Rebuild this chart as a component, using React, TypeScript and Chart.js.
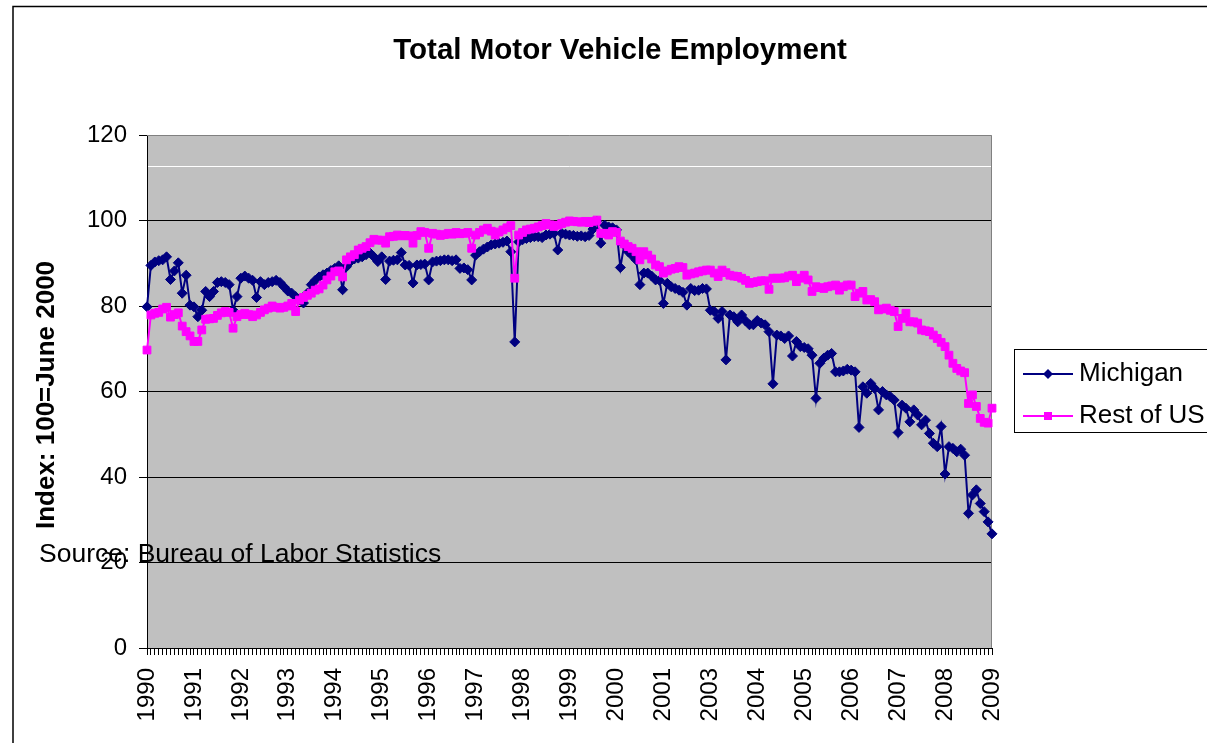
import React, { useEffect, useRef } from "react";
import { Chart, registerables } from "chart.js";

Chart.register(...registerables);

const yearLabels = [
  "1990", "1991", "1992", "1993", "1994", "1995", "1996", "1997", "1998", "1999",
  "2000", "2001", "2003", "2004", "2005", "2006", "2007", "2008", "2009",
];

const michigan = [
  79.8, 89.5, 90.3, 90.6, 90.8, 91.5, 86.2, 88.2, 90.1, 83.0, 87.2, 80.2,
  79.8, 77.5, 79.0, 83.4, 82.2, 83.4, 85.5, 85.7, 85.5, 85.0, 79.0, 82.2,
  86.5, 87.0, 86.5, 86.0, 82.0, 85.7, 85.0, 85.5, 85.7, 86.0, 85.5, 84.5,
  83.5, 83.0, 82.2, 81.5, 80.7, 83.0, 85.0, 86.0, 86.8, 87.3, 87.7, 88.3,
  88.8, 89.4, 83.8, 89.2, 90.4, 91.0, 91.2, 91.5, 92.0, 92.4, 91.5, 90.4,
  91.5, 86.2, 90.5, 90.7, 90.8, 92.5, 89.6, 89.5, 85.4, 89.6, 89.7, 89.8,
  86.1, 90.3, 90.5, 90.6, 90.8, 90.8, 90.6, 90.8, 88.8, 88.9, 88.5, 86.1,
  91.9, 92.7, 93.3, 93.8, 94.3, 94.5, 94.7, 94.9, 95.2, 92.7, 71.6, 95.0,
  95.5, 95.8, 96.0, 96.2, 96.2, 96.0, 96.6, 96.8, 97.0, 93.1, 97.0, 96.8,
  96.6, 96.5, 96.3, 96.4, 96.2, 96.5, 98.0, 99.8, 94.7, 98.9, 98.5, 98.3,
  97.8, 89.0, 94.3, 92.7, 91.8, 90.8, 85.0, 87.7, 87.7, 87.0, 86.1, 86.0,
  80.6, 85.3, 84.5, 84.1, 83.7, 83.2, 80.2, 84.1, 83.6, 83.7, 84.1, 84.0,
  79.0, 78.7, 77.1, 78.7, 67.4, 77.9, 77.5, 76.3, 77.9, 76.5, 75.6, 75.6,
  76.6, 76.0, 75.6, 74.0, 61.8, 73.2, 73.0, 72.4, 73.0, 68.3, 71.7, 70.5,
  70.3, 70.0, 68.5, 58.4, 66.6, 67.8, 68.5, 68.9, 64.6, 64.6, 64.8, 65.2,
  65.0, 64.6, 51.6, 61.1, 59.6, 61.9, 60.7, 55.7, 60.0, 59.2, 58.8, 58.0,
  50.4, 56.8, 56.1, 52.9, 55.7, 54.5, 52.2, 53.3, 50.2, 47.9, 47.1, 51.8,
  40.7, 47.1, 46.7, 45.9, 46.5, 45.1, 31.5, 35.8, 37.0, 33.8, 31.9, 29.5,
  26.7,
];

const restOfUS = [
  69.7, 77.9, 78.3, 78.5, 79.3, 79.7, 77.4, 78.0, 78.4, 75.3, 74.0, 73.0,
  71.7, 71.7, 74.4, 76.9, 77.0, 77.1, 77.8, 78.4, 78.7, 78.5, 74.8, 77.5,
  78.0, 78.3, 78.0, 77.5, 77.9, 78.5, 79.1, 79.5, 80.0, 79.7, 79.5, 79.7,
  80.0, 80.6, 78.7, 81.4, 82.0, 82.5, 83.0, 83.7, 84.0, 84.9, 86.1, 87.0,
  88.0, 88.2, 86.8, 90.8, 91.5, 92.0, 93.1, 93.5, 93.9, 94.8, 95.6, 95.4,
  95.4, 94.7, 96.2, 96.3, 96.6, 96.4, 96.5, 96.4, 94.7, 96.5, 97.4, 97.2,
  93.5, 97.0, 96.8, 96.5, 96.7, 97.0, 96.8, 97.2, 96.9, 97.0, 97.2, 93.5,
  96.6, 97.2, 97.8, 98.2, 97.5, 96.6, 97.3, 97.8, 98.3, 98.8, 86.5, 96.6,
  97.2, 97.8, 98.0, 98.2, 98.5, 98.8, 99.3, 99.0, 98.6, 98.9, 99.3, 99.6,
  99.9, 99.8, 99.7, 99.6, 99.8, 99.5, 99.8, 100.1, 97.0, 97.0, 96.6, 97.4,
  97.2, 95.2, 94.5, 93.9, 93.5, 92.7, 90.8, 92.7, 91.9, 91.0, 89.6, 89.2,
  87.7, 88.2, 88.6, 88.8, 89.2, 89.0, 87.2, 87.5, 87.7, 88.0, 88.2, 88.4,
  88.4, 87.7, 86.9, 88.4, 87.8, 87.2, 87.0, 86.9, 86.5, 86.0, 85.3, 85.5,
  85.7, 85.9, 85.9, 83.9, 86.5, 86.5, 86.5, 86.6, 87.0, 87.2, 85.7, 86.5,
  87.2, 86.1, 83.4, 84.5, 84.3, 84.1, 84.5, 84.7, 84.9, 83.7, 84.5, 84.9,
  84.9, 82.2, 83.0, 83.4, 81.4, 81.5, 81.0, 79.1, 79.3, 79.5, 79.0, 78.7,
  75.2, 77.1, 78.3, 76.3, 76.3, 76.0, 74.4, 74.2, 74.0, 73.2, 72.4, 71.5,
  70.5, 68.5, 66.6, 65.4, 64.8, 64.4, 57.2, 59.2, 56.5, 53.7, 52.8, 52.6,
  56.1,
];

const monthsPerLabel = 12;
const categories = michigan.map((_, i) =>
  i % monthsPerLabel === 0 ? yearLabels[i / monthsPerLabel] : ""
);

const TITLE = "Total Motor Vehicle Employment";
const Y_TITLE = "Index: 100=June 2000";
const SOURCE = "Source: Bureau of Labor Statistics";
const WHITE_LINE_VALUE = 112.7;

const FONT = "'Liberation Sans', Arial, Helvetica, sans-serif";
const NAVY = "#000080";
const MAGENTA = "#FF00FF";
const PLOT_BG = "#C0C0C0";

const W = 1207;
const H = 743;

function drawMarker(ctx: CanvasRenderingContext2D, style: string, x: number, y: number, color: string) {
  ctx.save();
  ctx.fillStyle = color;
  ctx.beginPath();
  if (style === "rectRot") {
    const r = 5;
    ctx.moveTo(x, y - r);
    ctx.lineTo(x + r, y);
    ctx.lineTo(x, y + r);
    ctx.lineTo(x - r, y);
    ctx.closePath();
  } else {
    const s = 4;
    ctx.rect(x - s, y - s, 2 * s, 2 * s);
  }
  ctx.fill();
  ctx.restore();
}

const chromePlugin = {
  id: "chrome",
  beforeDraw(chart: any) {
    const { ctx, chartArea: a } = chart;
    ctx.save();
    ctx.fillStyle = "#ffffff";
    ctx.fillRect(0, 0, chart.width, chart.height);
    ctx.strokeStyle = "#000";
    ctx.lineWidth = 1.5;
    ctx.beginPath();
    ctx.moveTo(13, chart.height + 5);
    ctx.lineTo(13, 6.5);
    ctx.lineTo(chart.width + 5, 6.5);
    ctx.stroke();
    ctx.fillStyle = PLOT_BG;
    ctx.fillRect(a.left, a.top, a.right - a.left, a.bottom - a.top);
    ctx.restore();
  },
  beforeDatasetsDraw(chart: any) {
    const { ctx, chartArea: a } = chart;
    const y = chart.scales.y.getPixelForValue(WHITE_LINE_VALUE);
    ctx.save();
    ctx.strokeStyle = "#ffffff";
    ctx.lineWidth = 1;
    ctx.beginPath();
    ctx.moveTo(a.left + 1, Math.round(y) + 0.5);
    ctx.lineTo(a.right - 1, Math.round(y) + 0.5);
    ctx.stroke();
    ctx.strokeStyle = "#808080";
    ctx.beginPath();
    ctx.moveTo(a.left, a.top + 0.5);
    ctx.lineTo(a.right - 0.5, a.top + 0.5);
    ctx.lineTo(a.right - 0.5, a.bottom);
    ctx.stroke();
    ctx.restore();
  },
  afterDraw(chart: any) {
    const { ctx } = chart;
    ctx.save();
    ctx.fillStyle = "#000";
    // title
    ctx.font = `bold 29.5px ${FONT}`;
    ctx.textAlign = "center";
    ctx.textBaseline = "alphabetic";
    ctx.fillText(TITLE, 620, 59);
    // y title
    ctx.save();
    ctx.translate(47, 395);
    ctx.rotate(-Math.PI / 2);
    ctx.font = `bold 26px ${FONT}`;
    ctx.textAlign = "center";
    ctx.textBaseline = "middle";
    ctx.fillText(Y_TITLE, 0, 0);
    ctx.restore();
    // source
    ctx.font = `26.5px ${FONT}`;
    ctx.textAlign = "left";
    ctx.textBaseline = "alphabetic";
    ctx.fillText(SOURCE, 39, 562);
    // legend
    const lx = 1014.5;
    const ly = 349.5;
    ctx.fillStyle = "#ffffff";
    ctx.fillRect(lx, ly, 220, 83);
    ctx.strokeStyle = "#000";
    ctx.lineWidth = 1;
    ctx.strokeRect(lx, ly, 220, 83);
    const rows = chart.data.datasets.map((ds: any, i: number) => ({ ds, y: 374 + i * 42 }));
    rows.forEach(({ ds, y }: any) => {
      ctx.strokeStyle = ds.borderColor;
      ctx.lineWidth = 2;
      ctx.beginPath();
      ctx.moveTo(1023, y);
      ctx.lineTo(1073, y);
      ctx.stroke();
      drawMarker(ctx, ds.pointStyle, 1048, y, ds.backgroundColor);
      ctx.fillStyle = "#000";
      ctx.font = `26px ${FONT}`;
      ctx.textAlign = "left";
      ctx.textBaseline = "alphabetic";
      ctx.fillText(ds.label, 1079, y + 7);
    });
    ctx.restore();
  },
};

export default function App() {
  const canvasRef = useRef<HTMLCanvasElement | null>(null);

  useEffect(() => {
    const canvas = canvasRef.current;
    if (!canvas) return;
    const chart = new Chart(canvas, {
      type: "line",
      data: {
        labels: categories,
        datasets: [
          {
            label: "Michigan",
            data: michigan,
            borderColor: NAVY,
            backgroundColor: NAVY,
            pointBackgroundColor: NAVY,
            pointBorderColor: NAVY,
            pointStyle: "rectRot",
            pointRadius: 5,
            pointBorderWidth: 1,
            borderWidth: 2,
            tension: 0,
            order: 1,
          },
          {
            label: "Rest of US",
            data: restOfUS,
            borderColor: MAGENTA,
            backgroundColor: MAGENTA,
            pointBackgroundColor: MAGENTA,
            pointBorderColor: MAGENTA,
            pointStyle: "rect",
            pointRadius: 5.5,
            pointBorderWidth: 1,
            borderWidth: 2,
            tension: 0,
            order: 0,
          },
        ],
      },
      options: {
        responsive: false,
        animation: false,
        devicePixelRatio: 1,
        layout: { padding: { top: 135, right: 215, left: 0, bottom: 0 } },
        plugins: {
          legend: { display: false },
          title: { display: false },
          tooltip: { enabled: false },
        },
        scales: {
          x: {
            type: "category",
            offset: false,
            afterFit: (scale: any) => {
              scale.height = 95;
            },
            grid: {
              display: true,
              drawOnChartArea: false,
              drawTicks: true,
              tickLength: 7,
              tickColor: "#000",
              color: "#000",
              lineWidth: 1,
            },
            border: { display: true, color: "#000", width: 1 },
            ticks: {
              autoSkip: false,
              maxRotation: 90,
              minRotation: 90,
              padding: 13,
              color: "#000",
              font: { family: FONT, size: 24 },
              callback: (_v: any, i: number) => categories[i],
            },
          },
          y: {
            min: 0,
            max: 120,
            afterFit: (scale: any) => {
              scale.width = 147;
            },
            grid: {
              display: true,
              drawTicks: true,
              tickLength: 8,
              tickColor: "#000",
              color: (c: any) => (c.tick && (c.tick.value === 120 || c.tick.value === 0) ? "rgba(0,0,0,0)" : "#000"),
              lineWidth: 1,
            },
            border: { display: true, color: "#000", width: 1 },
            ticks: {
              stepSize: 20,
              padding: 12,
              color: "#000",
              font: { family: FONT, size: 24 },
            },
          },
        },
      },
      plugins: [chromePlugin],
    });
    return () => chart.destroy();
  }, []);

  return (
    <div style={{ position: "fixed", left: 0, top: 0, width: W, height: H }}>
      <canvas ref={canvasRef} width={W} height={H} style={{ width: W, height: H, display: "block" }} />
    </div>
  );
}
